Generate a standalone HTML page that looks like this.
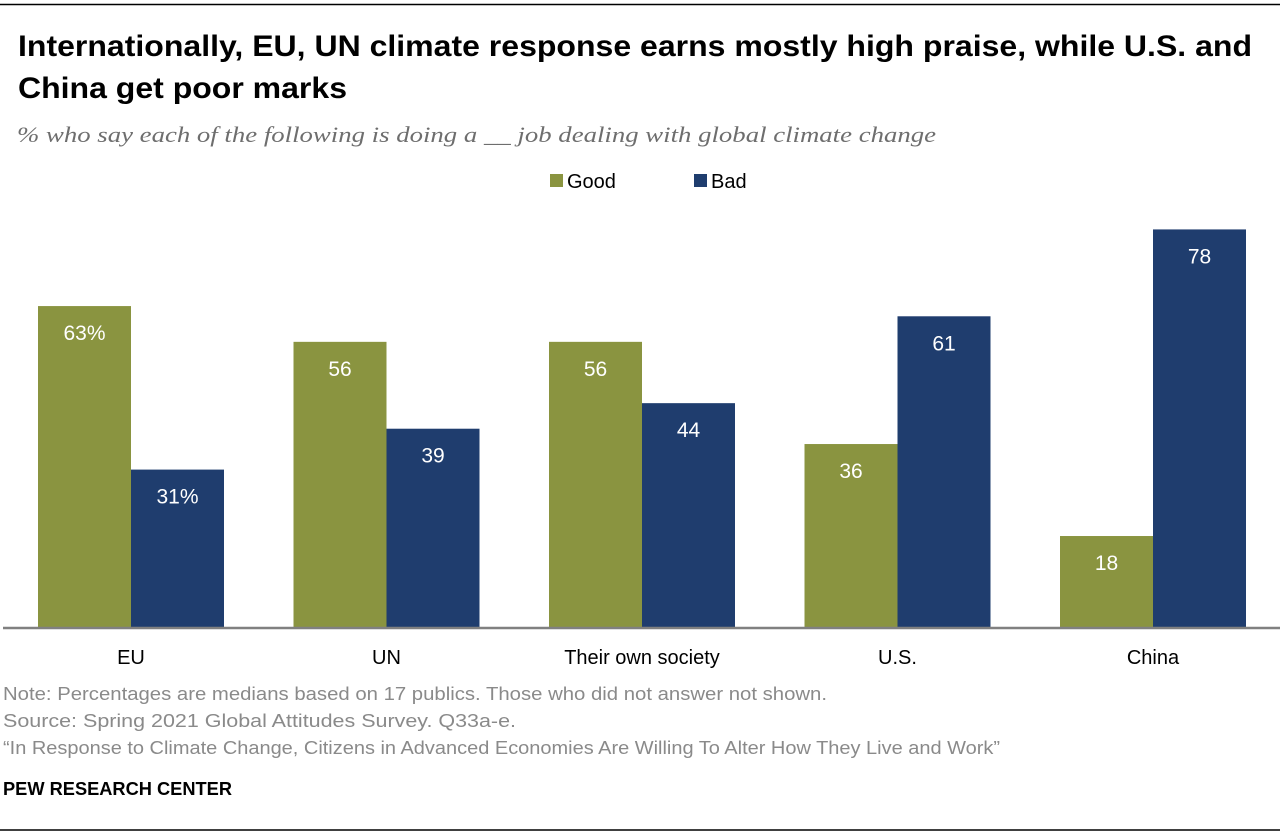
<!DOCTYPE html>
<html><head><meta charset="utf-8"><style>html,body{margin:0;padding:0;background:#fff}svg{display:block}</style></head>
<body>
<svg id="chart" width="1280" height="838" viewBox="0 0 1280 838" xmlns="http://www.w3.org/2000/svg" font-family="Liberation Sans, sans-serif">
<line x1="0" y1="4.5" x2="1280" y2="4.5" stroke="#000" stroke-width="1.5"/>
<text x="18" y="56" font-size="30" font-weight="bold" textLength="1234" lengthAdjust="spacingAndGlyphs">Internationally, EU, UN climate response earns mostly high praise, while U.S. and</text>
<text x="18" y="98" font-size="30" font-weight="bold" textLength="329" lengthAdjust="spacingAndGlyphs">China get poor marks</text>
<text x="17" y="142" font-size="22" font-style="italic" font-family="Liberation Serif, serif" fill="#6e6e6e" textLength="919" lengthAdjust="spacingAndGlyphs">% who say each of the following is doing a __ job dealing with global climate change</text>
<g>
<rect x="550" y="174" width="13" height="13" fill="#8a9440"/>
<text x="567" y="188" font-size="20">Good</text>
<rect x="694" y="174" width="13" height="13" fill="#1f3d6e"/>
<text x="711" y="188" font-size="20">Bad</text>
</g>
<g id="bars"></g>
<line x1="3" y1="628" x2="1280" y2="628" stroke="#808080" stroke-width="2.5"/>
<text x="3" y="700" font-size="18" fill="#8a8a8a" textLength="824" lengthAdjust="spacingAndGlyphs">Note: Percentages are medians based on 17 publics. Those who did not answer not shown.</text>
<text x="3" y="727" font-size="18" fill="#8a8a8a" textLength="513" lengthAdjust="spacingAndGlyphs">Source: Spring 2021 Global Attitudes Survey. Q33a-e.</text>
<text x="3" y="754" font-size="18" fill="#8a8a8a" textLength="997" lengthAdjust="spacingAndGlyphs">“In Response to Climate Change, Citizens in Advanced Economies Are Willing To Alter How They Live and Work”</text>
<text x="3" y="795" font-size="18" font-weight="bold" textLength="229" lengthAdjust="spacingAndGlyphs">PEW RESEARCH CENTER</text>
<line x1="0" y1="830" x2="1280" y2="830" stroke="#000" stroke-width="1.5"/>
</svg>
<script>
const categories = ["EU", "UN", "Their own society", "U.S.", "China"];
const goodValues = [63, 56, 56, 36, 18];
const badValues = [31, 39, 44, 61, 78];
const goodLabels = ["63%", "56", "56", "36", "18"];
const badLabels = ["31%", "39", "44", "61", "78"];
const NS = "http://www.w3.org/2000/svg";
const baseY = 628, pxPer = 5.11, firstX = 38, groupStep = 255.5, barW = 93;
function yScale(v){ return baseY - v * pxPer; }
function xGroup(i){ return firstX + i * groupStep; }
const g = document.getElementById('bars');
function mk(tag, attrs){ const e = document.createElementNS(NS, tag); for (const k in attrs) e.setAttribute(k, attrs[k]); return e; }
categories.forEach((c, i) => {
  const series = [[goodValues[i], goodLabels[i], "#8a9440", "good"], [badValues[i], badLabels[i], "#1f3d6e", "bad"]];
  series.forEach((s, j) => {
    const x = xGroup(i) + j * barW, y = yScale(s[0]);
    const r = mk('rect', {x: x, y: y, width: barW, height: baseY - y, fill: s[2]});
    
    
    g.appendChild(r);
    const t = mk('text', {x: x + barW / 2, y: y + 34, 'text-anchor': 'middle', 'font-size': 21, fill: '#fff'});
    t.textContent = s[1];
    
    
    g.appendChild(t);
  });
  const lbl = mk('text', {x: xGroup(i) + barW, y: 664, 'text-anchor': 'middle', 'font-size': 20});
  lbl.textContent = c;
  
  
  g.appendChild(lbl);
});
</script>
</body></html>
